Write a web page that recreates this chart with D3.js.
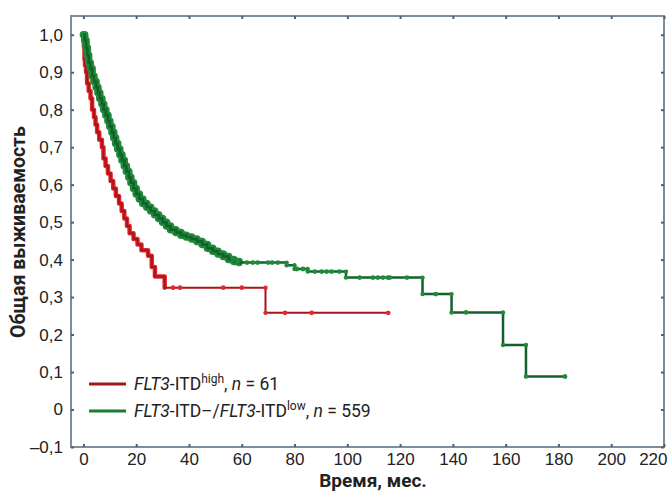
<!DOCTYPE html>
<html>
<head>
<meta charset="utf-8">
<script src="https://cdn.jsdelivr.net/npm/d3@7"></script>
<style>
  body { margin: 0; background: #fff; }
  svg { font-family: Roboto, 'Liberation Sans', sans-serif; }
</style>
</head>
<body>
<svg width="669" height="494"></svg>
<script>
var yTicks = [-0.1, 0, 0.1, 0.2, 0.3, 0.4, 0.5, 0.6, 0.7, 0.8, 0.9, 1.0];
var yLabels = ['\u20130,1', '0', '0,1', '0,2', '0,3', '0,4', '0,5', '0,6', '0,7', '0,8', '0,9', '1,0'];
var xTicks = [0, 20, 40, 60, 80, 100, 120, 140, 160, 180, 200, 220];

// FLT3-ITD high, n = 61 : step times (months) and survival after the step
var redTime = [0, 0.2, 0.4, 0.6, 1, 1.4, 2, 2.7, 3.3, 4, 4.6, 5.2, 6, 7, 7.6, 8.4, 9.3, 10.3,
  11.3, 12.3, 13.5, 14.5, 15.5, 16.5, 17.5, 19, 20.5, 22, 24.5, 25.9, 27.1, 30.8, 69, 115.5];
var redSurv = [1.0, 0.967, 0.934, 0.918, 0.9, 0.87, 0.85, 0.83, 0.8, 0.78, 0.76, 0.74, 0.72, 0.7,
  0.67, 0.65, 0.63, 0.61, 0.59, 0.57, 0.55, 0.53, 0.51, 0.49, 0.47, 0.455, 0.44, 0.425, 0.41,
  0.38, 0.355, 0.325, 0.258, 0.258];
var redCensor = [34, 36.6, 53, 60, 76.4, 86.5];

// FLT3-ITD-/FLT3-ITD low, n = 559
var greenTime = [0, 0.5, 1, 1.5, 2, 2.6, 3.3, 4, 4.8, 5.5, 6.2, 7, 7.7, 8.5, 9.3, 10, 10.8, 11.5,
  12.2, 13, 13.8, 14.6, 15.5, 16.3, 17.2, 18, 19, 20, 21.2, 22.5, 24, 25.5, 27, 28.5, 30, 31.5,
  33, 35, 37, 39, 41, 43, 45, 47, 49, 51, 53, 55, 57, 59, 77, 80, 85, 99.5, 128.5, 139.5, 159,
  167.7, 182.5];
var greenSurv = [1.0, 0.985, 0.965, 0.945, 0.925, 0.91, 0.89, 0.875, 0.86, 0.845, 0.83, 0.815,
  0.8, 0.785, 0.77, 0.755, 0.74, 0.725, 0.71, 0.695, 0.68, 0.665, 0.65, 0.635, 0.62, 0.605, 0.59,
  0.575, 0.562, 0.55, 0.54, 0.53, 0.52, 0.51, 0.5, 0.49, 0.48, 0.472, 0.465, 0.46, 0.455, 0.448,
  0.44, 0.43, 0.422, 0.415, 0.408, 0.4, 0.395, 0.392, 0.385, 0.375, 0.368, 0.352, 0.308, 0.259,
  0.172, 0.088, 0.088];
var greenCensor = [56.7, 58.5, 62, 64.2, 66, 70, 71.5, 73.7, 80.9, 83.2, 87.7, 90.3, 92.2, 94,
  97, 104.7, 109.7, 111.6, 113.5, 115.4, 116.1, 122.6, 133.5, 145];

var plotLeft = 71, plotRight = 664, plotTop = 16, plotBottom = 447;
var frameColor = '#7f8d99';

var svg = d3.select('svg');

var x = d3.scaleLinear().domain([-4.7, 220]).range([plotLeft, plotRight]);
var y = d3.scaleLinear().domain([-0.1, 1.05]).range([plotBottom, plotTop]);

// frame
svg.append('rect')
  .attr('x', plotLeft).attr('y', plotTop)
  .attr('width', plotRight - plotLeft).attr('height', plotBottom - plotTop)
  .attr('fill', 'none')
  .attr('stroke', frameColor)
  .attr('stroke-width', 2);

function styleAxis(g) {
  g.select('.domain').remove();
  g.selectAll('.tick line').attr('stroke', '#555f68').attr('stroke-width', 2);
  g.selectAll('.tick text').attr('fill', '#222').style('font-size', '17px');
}

var xAxis = d3.axisBottom(x).tickValues(xTicks).tickSize(-3).tickPadding(6)
  .tickFormat(d3.format('d'));
svg.append('g').attr('transform', 'translate(0,' + plotBottom + ')').call(xAxis).call(styleAxis)
  .selectAll('.tick text')
  .filter(d => d === 220)
  .attr('text-anchor', 'end').attr('x', plotRight + 3 - x(220));

var yAxis = d3.axisLeft(y).tickValues(yTicks).tickSize(-3).tickPadding(8)
  .tickFormat((d, i) => yLabels[i]);
svg.append('g').attr('transform', 'translate(' + plotLeft + ',0)').call(yAxis).call(styleAxis);

svg.append('g').attr('transform', 'translate(0,' + plotTop + ')')
  .call(d3.axisTop(x).tickValues(xTicks).tickSize(-3).tickFormat(''))
  .call(styleAxis);
svg.append('g').attr('transform', 'translate(' + plotRight + ',0)')
  .call(d3.axisRight(y).tickValues(yTicks).tickSize(-3).tickFormat(''))
  .call(styleAxis);

// curves
function curveData(times, surv) {
  return times.map((t, i) => ({ t: t, s: surv[i] }));
}
function survAt(data, t) {
  var i = d3.bisector(d => d.t).right(data, t) - 1;
  return data[Math.max(i, 0)].s;
}

var line = d3.line()
  .x(d => x(d.t))
  .y(d => y(d.s))
  .curve(d3.curveStepAfter);

// denseUntil: the early part where marks crowd into a thick band
function drawCurve(times, surv, censor, lineColor, markColor, bandWidth, denseUntil, lineWidth) {
  var data = curveData(times, surv);
  var g = svg.append('g');
  g.append('path')
    .datum(data.filter(d => d.t <= denseUntil))
    .attr('d', line)
    .attr('fill', 'none')
    .attr('stroke', markColor)
    .attr('stroke-width', bandWidth)
    .attr('stroke-linejoin', 'round')
    .attr('stroke-linecap', 'round');
  g.append('path')
    .datum(data)
    .attr('d', line)
    .attr('fill', 'none')
    .attr('stroke', lineColor)
    .attr('stroke-width', lineWidth);
  // event corners after the dense part
  var corners = [];
  data.forEach((d, i) => {
    if (i > 0 && d.t > denseUntil) {
      corners.push(d);
      corners.push({ t: d.t, s: data[i - 1].s });
    }
  });
  g.selectAll('circle.ev')
    .data(corners)
    .enter()
    .append('circle')
    .attr('class', 'ev')
    .attr('cx', d => x(d.t))
    .attr('cy', d => y(d.s))
    .attr('r', 2.2)
    .attr('fill', markColor);
  g.selectAll('circle.cn')
    .data(censor)
    .enter()
    .append('circle')
    .attr('class', 'cn')
    .attr('cx', d => x(d))
    .attr('cy', d => y(survAt(data, d)))
    .attr('r', 2.4)
    .attr('fill', markColor);
}

drawCurve(redTime, redSurv, redCensor, '#a8141a', '#e8262c', 4.5, 31, 2);
drawCurve(greenTime, greenSurv, greenCensor, '#12602a', '#1f8a3a', 7.5, 60, 2.5);

// legend
var legend = [
  { color: '#9b1b1b', tail: 'high', n: '61', mid: '' },
  { color: '#1b7a34', tail: 'low', n: '559', mid: '\u2013/' }
];
legend.forEach((d, i) => {
  var ly = 384 + i * 27;
  svg.append('line')
    .attr('x1', 89).attr('x2', 126)
    .attr('y1', ly).attr('y2', ly)
    .attr('stroke', d.color).attr('stroke-width', 3);
  var t = svg.append('text')
    .attr('x', 134).attr('y', ly + 6)
    .style('font-size', '17.5px')
    .attr('fill', '#222');
  t.append('tspan').style('font-style', 'italic').text('FLT3');
  if (d.mid) {
    t.append('tspan').text('-ITD' + d.mid);
    t.append('tspan').style('font-style', 'italic').text('FLT3');
  }
  t.append('tspan').text('-ITD');
  t.append('tspan').attr('dy', -7).style('font-size', '12px').text(d.tail);
  t.append('tspan').attr('dy', 7).text(', ');
  t.append('tspan').style('font-style', 'italic').text('n');
  t.append('tspan').text(' = ' + d.n);
});

// axis titles
svg.append('text')
  .attr('x', 373)
  .attr('y', 487)
  .style('text-anchor', 'middle')
  .style('font-size', '19px')
  .style('font-weight', 'bold')
  .attr('fill', '#222')
  .text('Время, мес.');

svg.append('text')
  .attr('transform', 'rotate(-90)')
  .attr('x', -232)
  .attr('y', 25)
  .style('text-anchor', 'middle')
  .style('font-size', '19.5px')
  .style('font-weight', 'bold')
  .attr('fill', '#222')
  .text('Общая выживаемость');
</script>
</body>
</html>
